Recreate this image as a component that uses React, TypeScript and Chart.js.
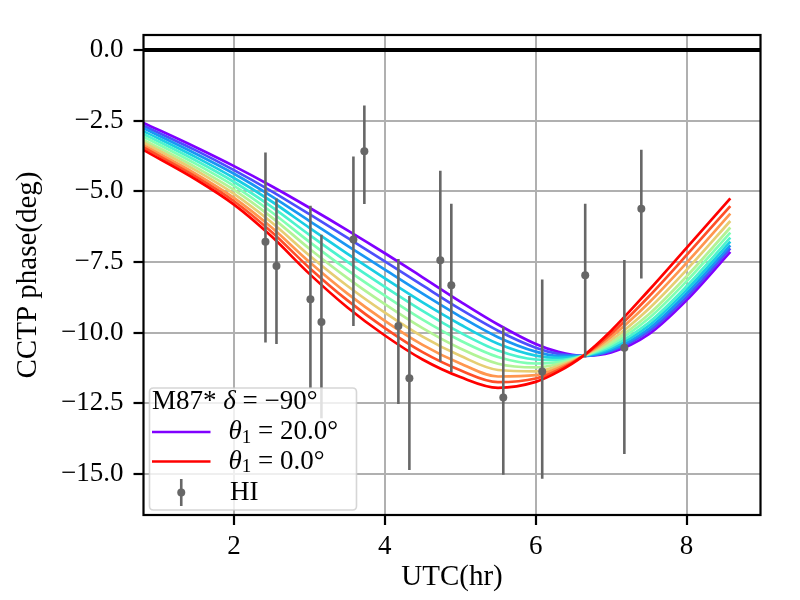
import React, { useEffect, useRef } from "react";
import { Chart, registerables } from "chart.js";

Chart.register(...registerables);

const FONT = '"Liberation Serif", "DejaVu Serif", serif';
const TICK_SIZE = 27;
const TITLE_SIZE = 29;
const LEGEND_SIZE = 27;

// UTC hours at which the model curves were read
const utcHours = [0.8, 1.5, 2.0, 2.5, 3.0, 3.5, 4.0, 4.5, 5.0, 5.5, 6.0, 6.3, 6.63, 7.0, 7.5, 8.0, 8.58];

// CCTP phase (deg) model curves, one per theta1
const phaseTheta20 = [-2.58, -3.45, -4.11, -4.82, -5.58, -6.37, -7.19, -8.04, -8.90, -9.71, -10.40, -10.68, -10.82, -10.70, -10.05, -8.85, -7.14];
const phaseTheta18 = [-2.68, -3.56, -4.25, -5.00, -5.81, -6.64, -7.48, -8.33, -9.17, -9.93, -10.53, -10.75, -10.82, -10.65, -9.95, -8.74, -7.02];
const phaseTheta16 = [-2.77, -3.68, -4.38, -5.18, -6.05, -6.92, -7.77, -8.62, -9.43, -10.16, -10.67, -10.82, -10.82, -10.61, -9.86, -8.62, -6.91];
const phaseTheta14 = [-2.87, -3.80, -4.53, -5.36, -6.29, -7.20, -8.08, -8.93, -9.71, -10.39, -10.81, -10.89, -10.82, -10.55, -9.75, -8.49, -6.78];
const phaseTheta12 = [-2.97, -3.92, -4.67, -5.55, -6.54, -7.49, -8.38, -9.23, -10.00, -10.63, -10.95, -10.97, -10.82, -10.49, -9.64, -8.36, -6.64];
const phaseTheta10 = [-3.07, -4.04, -4.81, -5.74, -6.79, -7.78, -8.69, -9.54, -10.28, -10.86, -11.09, -11.04, -10.82, -10.42, -9.49, -8.18, -6.46];
const phaseTheta8 = [-3.18, -4.16, -4.95, -5.92, -7.03, -8.06, -8.99, -9.84, -10.56, -11.10, -11.23, -11.11, -10.82, -10.35, -9.35, -8.01, -6.28];
const phaseTheta6 = [-3.27, -4.27, -5.09, -6.10, -7.27, -8.34, -9.29, -10.14, -10.82, -11.32, -11.37, -11.18, -10.82, -10.26, -9.15, -7.78, -6.05];
const phaseTheta4 = [-3.37, -4.39, -5.23, -6.28, -7.50, -8.61, -9.58, -10.43, -11.09, -11.55, -11.50, -11.25, -10.82, -10.15, -8.94, -7.53, -5.79];
const phaseTheta2 = [-3.45, -4.49, -5.35, -6.44, -7.71, -8.85, -9.84, -10.69, -11.33, -11.75, -11.62, -11.32, -10.82, -10.04, -8.72, -7.26, -5.52];
const phaseTheta0 = [-3.54, -4.59, -5.47, -6.60, -7.92, -9.10, -10.10, -10.95, -11.57, -11.95, -11.74, -11.38, -10.82, -9.93, -8.50, -7.00, -5.25];

const curveThetas = [20, 18, 16, 14, 12, 10, 8, 6, 4, 2, 0];
const curveSeries = [
  phaseTheta20, phaseTheta18, phaseTheta16, phaseTheta14, phaseTheta12, phaseTheta10,
  phaseTheta8, phaseTheta6, phaseTheta4, phaseTheta2, phaseTheta0,
];
const curveColors = [
  "#8000ff", "#4d4ffc", "#1a96f3", "#1acee3", "#4df3ce", "#80ffb4",
  "#b3f396", "#e6ce74", "#ff964f", "#ff4f28", "#ff0000",
];

// HI measurements
const hiX = [2.417, 2.563, 3.013, 3.159, 3.583, 3.728, 4.179, 4.325, 4.735, 4.881, 5.570, 6.086, 6.656, 7.175, 7.400];
const hiY = [-6.78, -7.64, -8.82, -9.62, -6.70, -3.58, -9.76, -11.61, -7.44, -8.32, -12.29, -11.37, -7.97, -10.53, -5.62];
const hiUpper = [-3.63, -5.25, -5.51, -6.54, -3.77, -1.96, -7.39, -8.70, -4.27, -5.44, -9.79, -8.12, -5.44, -7.43, -3.53];
const hiLower = [-10.35, -10.40, -11.97, -13.03, -9.76, -5.45, -12.52, -14.86, -11.03, -11.39, -15.03, -15.17, -10.88, -14.29, -8.08];

const xTickValues = [2, 4, 6, 8];
const yTickValues = [0, -2.5, -5, -7.5, -10, -12.5, -15];

const HI_COLOR = "#676767";

type Part = { text: string; italic?: boolean; sub?: boolean };

function drawRich(ctx: CanvasRenderingContext2D, x: number, y: number, parts: Part[]) {
  let cx = x;
  for (const p of parts) {
    const size = p.sub ? 19 : LEGEND_SIZE;
    ctx.font = `${p.italic ? "italic " : ""}${size}px ${FONT}`;
    ctx.fillText(p.text, cx, y + (p.sub ? 6 : 0));
    cx += ctx.measureText(p.text).width;
  }
}

const overlayPlugin = {
  id: "overlay",
  afterDatasetsDraw(chart: any) {
    const { ctx, chartArea: a, scales } = chart;
    const xs = scales.x;
    const ys = scales.y;
    ctx.save();
    ctx.beginPath();
    ctx.rect(a.left, a.top, a.right - a.left, a.bottom - a.top);
    ctx.clip();
    // error bars
    ctx.strokeStyle = HI_COLOR;
    ctx.lineWidth = 2.6;
    hiX.forEach((xv, i) => {
      const px = xs.getPixelForValue(xv);
      ctx.beginPath();
      ctx.moveTo(px, ys.getPixelForValue(hiUpper[i]));
      ctx.lineTo(px, ys.getPixelForValue(hiLower[i]));
      ctx.stroke();
    });
    // zero line
    const y0 = ys.getPixelForValue(0);
    ctx.strokeStyle = "#000";
    ctx.lineWidth = 4;
    ctx.beginPath();
    ctx.moveTo(a.left, y0);
    ctx.lineTo(a.right, y0);
    ctx.stroke();
    ctx.restore();
    // frame
    ctx.save();
    ctx.strokeStyle = "#000";
    ctx.lineWidth = 2.2;
    ctx.strokeRect(a.left, a.top, a.right - a.left, a.bottom - a.top);
    ctx.restore();
  },
  afterDraw(chart: any) {
    const { ctx, chartArea: a } = chart;
    const boxW = 207;
    const boxH = 122;
    const bx = a.left + 6;
    const by = a.bottom - 5 - boxH;
    ctx.save();
    ctx.beginPath();
    const r = 4;
    ctx.moveTo(bx + r, by);
    ctx.lineTo(bx + boxW - r, by);
    ctx.quadraticCurveTo(bx + boxW, by, bx + boxW, by + r);
    ctx.lineTo(bx + boxW, by + boxH - r);
    ctx.quadraticCurveTo(bx + boxW, by + boxH, bx + boxW - r, by + boxH);
    ctx.lineTo(bx + r, by + boxH);
    ctx.quadraticCurveTo(bx, by + boxH, bx, by + boxH - r);
    ctx.lineTo(bx, by + r);
    ctx.quadraticCurveTo(bx, by, bx + r, by);
    ctx.closePath();
    ctx.fillStyle = "rgba(255,255,255,0.8)";
    ctx.fill();
    ctx.strokeStyle = "rgba(204,204,204,0.8)";
    ctx.lineWidth = 1.6;
    ctx.stroke();

    ctx.fillStyle = "#000";
    ctx.textBaseline = "middle";
    ctx.textAlign = "left";
    // title
    drawRich(ctx, bx + 2.5, by + 14, [
      { text: "M87* " },
      { text: "δ", italic: true },
      { text: " = −90°" },
    ]);
    const hx0 = bx + 2.5;
    const hx1 = bx + 61;
    const tx = bx + 79;
    const rows = [by + 44, by + 73.5, by + 104.5];
    // purple entry
    ctx.strokeStyle = curveColors[0];
    ctx.lineWidth = 2.7;
    ctx.beginPath();
    ctx.moveTo(hx0, rows[0]);
    ctx.lineTo(hx1, rows[0]);
    ctx.stroke();
    ctx.fillStyle = "#000";
    drawRich(ctx, tx, rows[0], [
      { text: "θ", italic: true },
      { text: "1", sub: true },
      { text: " = " + curveThetas[0].toFixed(1) + "°" },
    ]);
    // red entry
    ctx.strokeStyle = curveColors[curveColors.length - 1];
    ctx.beginPath();
    ctx.moveTo(hx0, rows[1]);
    ctx.lineTo(hx1, rows[1]);
    ctx.stroke();
    drawRich(ctx, tx, rows[1], [
      { text: "θ", italic: true },
      { text: "1", sub: true },
      { text: " = " + curveThetas[curveThetas.length - 1].toFixed(1) + "°" },
    ]);
    // HI entry
    const mx = (hx0 + hx1) / 2;
    ctx.strokeStyle = HI_COLOR;
    ctx.lineWidth = 2.6;
    ctx.beginPath();
    ctx.moveTo(mx, rows[2] - 13.5);
    ctx.lineTo(mx, rows[2] + 13.5);
    ctx.stroke();
    ctx.fillStyle = HI_COLOR;
    ctx.beginPath();
    ctx.arc(mx, rows[2], 4, 0, Math.PI * 2);
    ctx.fill();
    ctx.fillStyle = "#000";
    drawRich(ctx, tx + 1.5, rows[2], [{ text: "HI" }]);
    ctx.restore();
  },
};

function fmtY(v: number) {
  if (v === 0) return "0.0";
  return (v < 0 ? "−" : "") + Math.abs(v).toFixed(1);
}

export default function App() {
  const ref = useRef<HTMLCanvasElement | null>(null);

  useEffect(() => {
    if (!ref.current) return;
    document.body.style.margin = "0";
    const datasets: any[] = curveSeries.map((vals, k) => ({
      type: "line",
      label: `θ1 = ${curveThetas[k].toFixed(1)}°`,
      data: vals.map((v, i) => ({ x: utcHours[i], y: v })),
      borderColor: curveColors[k],
      backgroundColor: curveColors[k],
      borderWidth: 2.7,
      pointRadius: 0,
      cubicInterpolationMode: "monotone",
      fill: false,
      order: 1 + (curveSeries.length - 1 - k),
    }));
    datasets.push({
      type: "scatter",
      label: "HI",
      data: hiX.map((x, i) => ({ x, y: hiY[i] })),
      pointRadius: 4,
      pointBackgroundColor: HI_COLOR,
      pointBorderWidth: 0,
      borderColor: HI_COLOR,
      showLine: false,
      order: 0,
    });

    const chart = new Chart(ref.current, {
      type: "line",
      data: { datasets },
      plugins: [overlayPlugin as any],
      options: {
        responsive: false,
        animation: false,
        events: [],
        layout: { padding: { left: 0, right: 39.5, top: 35, bottom: 0 } },
        plugins: { legend: { display: false }, tooltip: { enabled: false } },
        scales: {
          x: {
            type: "linear",
            min: 0.8,
            max: 8.98,
            afterBuildTicks: (s: any) => {
              s.ticks = xTickValues.map((v) => ({ value: v }));
            },
            afterFit: (s: any) => {
              s.height = 85;
            },
            ticks: {
              callback: (v: any) => String(v),
              font: { family: FONT, size: TICK_SIZE },
              color: "#000",
              padding: 6,
              maxRotation: 0,
              autoSkip: false,
            },
            grid: { color: "#b0b0b0", lineWidth: 2, tickColor: "#000", tickWidth: 2.2, tickLength: 10 },
            border: { display: false },
            title: {
              display: true,
              text: "UTC(hr)",
              font: { family: FONT, size: TITLE_SIZE },
              color: "#000",
              padding: { top: 0, bottom: 5 },
            },
          },
          y: {
            type: "linear",
            min: -16.45,
            max: 0.53,
            afterBuildTicks: (s: any) => {
              s.ticks = yTickValues.map((v) => ({ value: v }));
            },
            afterFit: (s: any) => {
              s.width = 143.5;
            },
            ticks: {
              callback: (v: any) => fmtY(Number(v)),
              font: { family: FONT, size: TICK_SIZE },
              color: "#000",
              padding: 10,
              autoSkip: false,
            },
            grid: { color: "#b0b0b0", lineWidth: 2, tickColor: "#000", tickWidth: 2.2, tickLength: 10 },
            border: { display: false },
            title: {
              display: true,
              text: "CCTP phase(deg)",
              font: { family: FONT, size: TITLE_SIZE },
              color: "#000",
              padding: { top: 11, bottom: 0 },
            },
          },
        },
      } as any,
    });
    return () => chart.destroy();
  }, []);

  return (
    <div style={{ position: "absolute", left: 0, top: 0, width: 800, height: 600, background: "#fff" }}>
      <canvas ref={ref} width={800} height={600} style={{ display: "block", width: 800, height: 600 }} />
    </div>
  );
}
